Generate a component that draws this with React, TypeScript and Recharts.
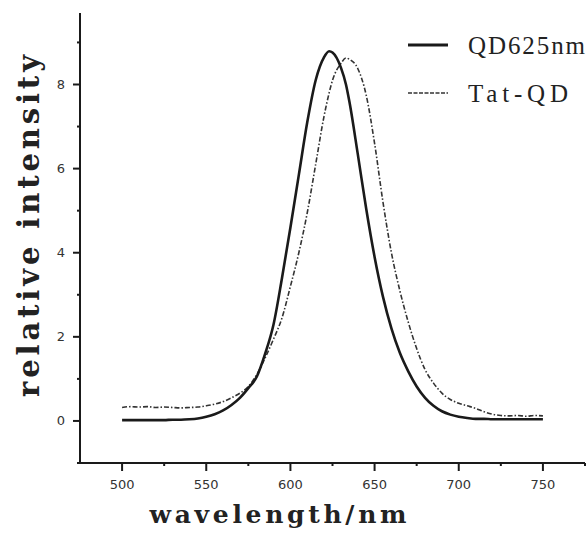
import { LineChart, Line, XAxis, YAxis, Legend } from "recharts";

// emission spectra (nm vs relative intensity)
const wavelength = [
  500, 505, 510, 515, 520, 525, 530, 535, 540, 545, 550, 555, 560, 565, 570, 575, 580, 585, 590, 595,
  600, 605, 610, 615, 620, 623, 625, 630, 633, 635, 640, 645, 650, 655, 660, 665, 670, 675, 680, 685,
  690, 695, 700, 705, 710, 715, 720, 725, 730, 735, 740, 745, 750,
];
const qd625 = [
  0.02, 0.02, 0.02, 0.02, 0.02, 0.02, 0.03, 0.03, 0.04, 0.06, 0.1, 0.16, 0.25, 0.38, 0.55, 0.78, 1.05, 1.6, 2.3, 3.4,
  4.6, 5.85, 7.1, 8.1, 8.65, 8.79, 8.76, 8.4, 8.0, 7.6, 6.35, 5.05, 3.9, 2.95, 2.2, 1.62, 1.18, 0.82, 0.55, 0.36,
  0.23, 0.15, 0.1, 0.07, 0.05, 0.05, 0.04, 0.04, 0.04, 0.04, 0.04, 0.04, 0.04,
];
const tatQd = [
  0.32, 0.34, 0.33, 0.34, 0.32, 0.33, 0.32, 0.31, 0.32, 0.33, 0.36, 0.4, 0.46, 0.55, 0.66, 0.82, 1.1, 1.5, 1.95, 2.45,
  3.2, 4.0, 4.95, 6.1, 7.25, 7.8, 8.1, 8.5, 8.63, 8.6, 8.38, 7.75, 6.6, 5.2, 4.0, 3.1, 2.35, 1.72, 1.22, 0.9,
  0.66, 0.51, 0.42, 0.36, 0.3, 0.22, 0.16, 0.13, 0.12, 0.13, 0.11, 0.13, 0.12,
];

const xTicks = [500, 525, 550, 575, 600, 625, 650, 675, 700, 725, 750, 775];
const yTicks = [-1, 0, 1, 2, 3, 4, 5, 6, 7, 8, 9];

const data = wavelength.map((w, i) => ({ w, qd: qd625[i], tat: tatQd[i] }));

const INK = "#1a1a1a";
const tickFont = { fontFamily: "DejaVu Sans", fontSize: 13, fill: "#333" };

function XTick({ x, y, payload }: any) {
  const major = payload.value % 50 === 0;
  return (
    <g>
      <line x1={x} x2={x} y1={y} y2={y + (major ? 8 : 3)} stroke={INK} strokeWidth={2} />
      {major && (
        <text x={x} y={y + 21} textAnchor="middle" dominantBaseline="central" {...tickFont}>
          {payload.value}
        </text>
      )}
    </g>
  );
}

function YTick({ x, y, payload }: any) {
  const major = payload.value % 2 === 0;
  return (
    <g>
      <line x1={x} x2={x - (major ? 7 : 3)} y1={y} y2={y} stroke={INK} strokeWidth={2} />
      {major && (
        <text x={x - 15} y={y} textAnchor="end" dominantBaseline="central" {...tickFont}>
          {payload.value}
        </text>
      )}
    </g>
  );
}

function LegendBox() {
  const txt = { fontFamily: "Liberation Serif", fontSize: 25, fill: "#222" };
  return (
    <svg width={190} height={90}>
      <line x1={10} x2={50} y1={25} y2={25} stroke={INK} strokeWidth={3} />
      <text x={70} y={25} dominantBaseline="central" textLength={117} lengthAdjust="spacing" {...txt}>
        QD625nm
      </text>
      <line x1={10} x2={50} y1={73} y2={73} stroke="#333" strokeWidth={1.5} strokeDasharray="4 1.5" />
      <text x={70} y={73} dominantBaseline="central" textLength={100} lengthAdjust="spacing" {...txt}>
        Tat-QD
      </text>
    </svg>
  );
}

const titleFont = { fontFamily: "DejaVu Serif", fontWeight: 700, fill: "#222" };

export default function App() {
  return (
    <div style={{ position: "absolute", left: 0, top: 0, width: 588, height: 535, background: "#fff" }}>
      <LineChart width={588} height={535} data={data} margin={{ top: 13, right: 3, bottom: 0, left: 0 }}>
        <XAxis
          dataKey="w"
          type="number"
          domain={[475, 775]}
          ticks={xTicks}
          interval={0}
          height={72}
          tickSize={0}
          tickMargin={0}
          tickLine={false}
          axisLine={{ stroke: INK, strokeWidth: 2 }}
          tick={<XTick />}
          label={() => (
            <text x={278} y={523} textAnchor="middle" textLength={257} lengthAdjust="spacing" fontSize={25} {...titleFont}>
              wavelength/nm
            </text>
          )}
        />
        <YAxis
          type="number"
          domain={[-1, 9.7]}
          ticks={yTicks}
          interval={0}
          width={80}
          tickSize={0}
          tickMargin={0}
          tickLine={false}
          axisLine={{ stroke: INK, strokeWidth: 2 }}
          tick={<YTick />}
          allowDataOverflow
          label={() => (
            <text
              x={39}
              y={226}
              transform="rotate(-90 39 226)"
              textAnchor="middle"
              textLength={342}
              lengthAdjust="spacing"
              fontSize={29}
              {...titleFont}
            >
              relative intensity
            </text>
          )}
        />
        <Legend
          layout="horizontal"
          verticalAlign="middle"
          content={() => <LegendBox />}
          wrapperStyle={{ left: 398, top: 20, width: 190, height: 90 }}
        />
        <Line
          type="monotone"
          dataKey="tat"
          name="Tat-QD"
          stroke="#333"
          strokeWidth={1.6}
          strokeDasharray="5 2 1.5 2"
          dot={false}
          isAnimationActive={false}
        />
        <Line
          type="monotone"
          dataKey="qd"
          name="QD625nm"
          stroke={INK}
          strokeWidth={2.6}
          dot={false}
          isAnimationActive={false}
        />
      </LineChart>
    </div>
  );
}
